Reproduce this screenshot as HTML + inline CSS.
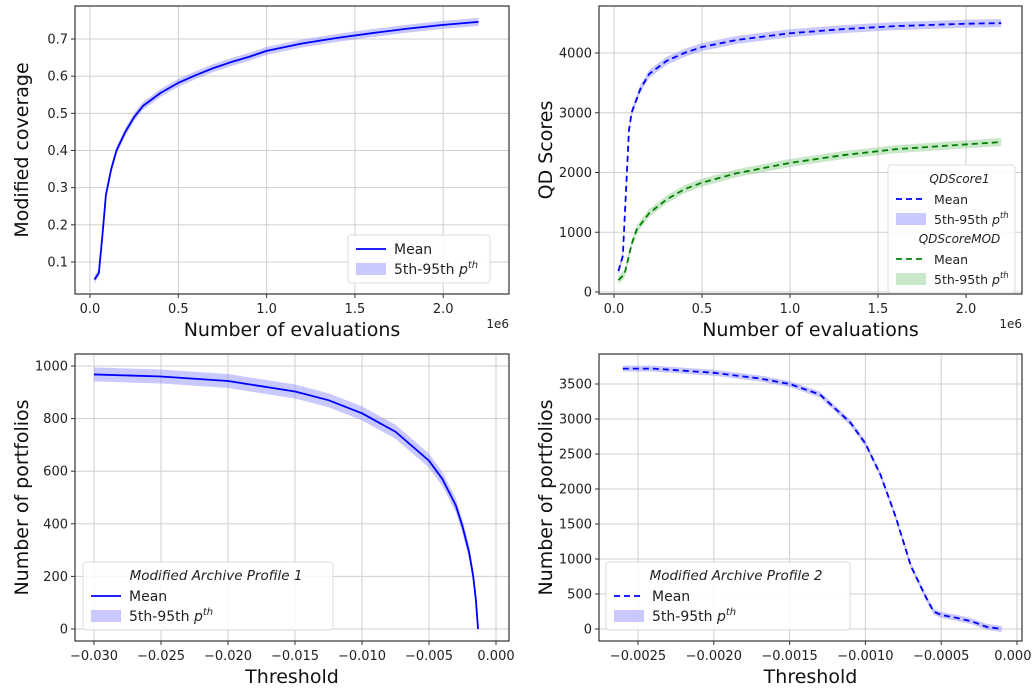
<!DOCTYPE html>
<html><head><meta charset="utf-8">
<style>
body{margin:0;background:#fff;}
svg{display:block;font-family:"DejaVu Sans","Liberation Sans",sans-serif;}
</style></head>
<body>
<svg id="fig" width="1032" height="690" viewBox="0 0 1032 690" xmlns="http://www.w3.org/2000/svg"></svg>
<script>
// ---- data ----
const covX = [0.025,0.05,0.07,0.09,0.12,0.15,0.2,0.25,0.3,0.4,0.5,0.6,0.7,0.8,0.9,1.0,1.2,1.4,1.6,1.8,2.0,2.2];
const covY = [0.053,0.07,0.17,0.28,0.35,0.40,0.45,0.49,0.52,0.555,0.582,0.603,0.622,0.638,0.652,0.668,0.688,0.703,0.716,0.728,0.738,0.746];
const qdX = [0.025,0.05,0.07,0.085,0.1,0.15,0.2,0.3,0.4,0.5,0.7,1.0,1.3,1.6,2.0,2.2];
const qd1Y = [350,600,1800,2700,3000,3400,3650,3870,4000,4100,4220,4330,4400,4450,4490,4500];
const qdModX = [0.025,0.06,0.1,0.13,0.2,0.3,0.4,0.5,0.7,1.0,1.3,1.6,2.0,2.2];
const qdModY = [200,300,800,1050,1320,1550,1720,1830,1990,2160,2290,2390,2470,2510];
const p1X = [-0.030,-0.025,-0.020,-0.015,-0.0125,-0.010,-0.0075,-0.005,-0.004,-0.003,-0.0025,-0.002,-0.0017,-0.0015,-0.00134];
const p1Y = [968,960,943,903,870,820,750,640,570,470,390,290,200,110,0];
const p2X = [-0.0026,-0.0024,-0.0020,-0.0017,-0.0015,-0.0013,-0.0011,-0.0010,-0.0009,-0.0008,-0.0007,-0.0006,-0.00055,-0.0005,-0.0004,-0.0003,-0.0002,-0.0001];
const p2Y = [3720,3720,3660,3580,3500,3350,2950,2650,2200,1600,900,450,250,200,160,110,30,0];
const covXTicks = [0,0.5,1.0,1.5,2.0];
const covYTicks = [0.1,0.2,0.3,0.4,0.5,0.6,0.7];
const qdYTicks = [0,1000,2000,3000,4000];
const p1XTicks = [-0.030,-0.025,-0.020,-0.015,-0.010,-0.005,0.000];
const p1YTicks = [0,200,400,600,800,1000];
const p2XTicks = [-0.0025,-0.0020,-0.0015,-0.0010,-0.0005,0.0000];
const p2YTicks = [0,500,1000,1500,2000,2500,3000,3500];

const NS="http://www.w3.org/2000/svg";
const svg=document.getElementById('fig');
function el(tag,attrs,parent,text){const e=document.createElementNS(NS,tag);for(const k in attrs)e.setAttribute(k,attrs[k]);if(text!==undefined)e.textContent=text;(parent||svg).appendChild(e);return e;}
function lin(d0,d1,r0,r1){return v=>r0+(v-d0)*(r1-r0)/(d1-d0);}

function panel(name,box,sx,sy,xt,yt,xfmt,yfmt,xlabel,ylabel,sci){
  const g=el('g',{});
  
  
  for(const t of xt){const x=sx(t);const l=el('line',{x1:x,x2:x,y1:box.t,y2:box.b,stroke:'#cfcfcf','stroke-width':1},g);
    el('line',{x1:x,x2:x,y1:box.b,y2:box.b+4,stroke:'#333'},g);
    const tx=el('text',{x:x,y:box.b+19,'font-size':13,'text-anchor':'middle',fill:'#222'},g,xfmt(t));}
  for(const t of yt){const y=sy(t);const l=el('line',{x1:box.l,x2:box.r,y1:y,y2:y,stroke:'#cfcfcf','stroke-width':1},g);
    el('line',{x1:box.l-4,x2:box.l,y1:y,y2:y,stroke:'#333'},g);
    const tx=el('text',{x:box.l-7,y:y+4.5,'font-size':13,'text-anchor':'end',fill:'#222'},g,yfmt(t));}
  const xl=el('text',{x:(box.l+box.r)/2,y:box.b+42,'font-size':19,'text-anchor':'middle',fill:'#111'},g,xlabel);
  
  const yl=el('text',{x:0,y:0,'font-size':19,'text-anchor':'middle',fill:'#111',transform:`translate(${box.l-47},${(box.t+box.b)/2}) rotate(-90)`},g,ylabel);
  
  if(sci){const s=el('text',{x:box.r,y:box.b+34,'font-size':12,'text-anchor':'end',fill:'#222'},g,'1e6');}
  return g;
}
function frame(g,box){const r=el('rect',{x:box.l,y:box.t,width:box.r-box.l,height:box.b-box.t,fill:'none',stroke:'#333','stroke-width':1.2},g);}
function series(g,xs,ys,sx,sy,color,band,bandColor,dash,name){
  const up=xs.map((x,i)=>`${sx(x)},${sy(ys[i])-band}`);
  const dn=xs.map((x,i)=>`${sx(x)},${sy(ys[i])+band}`).reverse();
  const p=el('polygon',{points:up.concat(dn).join(' '),fill:bandColor,'fill-opacity':0.45,stroke:'none'},g);
  
  const l=el('polyline',{points:xs.map((x,i)=>`${sx(x)},${sy(ys[i])}`).join(' '),fill:'none',stroke:color,'stroke-width':1.8,'stroke-dasharray':dash||'none','stroke-linejoin':'round'},g);
  
}
function legend(g,x,y,w,rows,name,fs){
  fs=fs||14;
  const h=rows.length*20+8;
  const r=el('rect',{x:x,y:y,width:w,height:h,rx:3,fill:'#fff','fill-opacity':0.85,stroke:'#ddd'},g);
  
  rows.forEach((rw,i)=>{const cy=y+14+i*20;
    if(rw.type==='title'){const t=el('text',{x:x+w/2+8,y:cy+4,'font-size':fs-0.5,'font-style':'italic','text-anchor':'middle',fill:'#222'},g,rw.text);return;}
    if(rw.type==='line')el('line',{x1:x+8,x2:x+38,y1:cy,y2:cy,stroke:rw.color,'stroke-width':1.8,'stroke-dasharray':rw.dash||'none'},g);
    else el('rect',{x:x+8,y:cy-6,width:30,height:12,fill:rw.color,'fill-opacity':0.45},g);
    const t=el('text',{x:x+46,y:cy+5,'font-size':fs,fill:'#222'},g);
    
    if(rw.type==='band'){t.appendChild(document.createTextNode('5th-95th '));const p=el('tspan',{'font-style':'italic'},t,'p');el('tspan',{'font-size':fs-4,dy:-6,'font-style':'italic'},t,'th');}
    else t.textContent=rw.text;
  });
}
const f1=v=>v.toFixed(1), f0=v=>String(v);
const minus=s=>s.replace('-','\u2212');

// Panel 1
{const box={l:75,r:509,t:6,b:294};const sx=lin(0,1,90,266.6),sy=lin(0.1,0.7,262,39);
 const g=panel('coverage-panel',box,sx,sy,covXTicks,covYTicks,f1,f1,'Number of evaluations','Modified coverage',true);
 series(g,covX,covY,sx,sy,'#0000ff',4,'#8888ff',null,'coverage');frame(g,box);
 legend(g,348,235,142,[{type:'line',color:'#0000ff',text:'Mean'},{type:'band',color:'#8888ff'}],'coverage-legend');}
// Panel 2
{const box={l:599,r:1022,t:6,b:294};const sx=lin(0,1,614,790),sy=lin(0,4000,292,53);
 const g=panel('qd-score-panel',box,sx,sy,covXTicks,qdYTicks,f1,f0,'Number of evaluations','QD Scores',true);
 series(g,qdX,qd1Y,sx,sy,'#0000ff',4,'#8888ff','6,4','qdscore1');
 series(g,qdModX,qdModY,sx,sy,'#008000',4,'#88cc88','6,4','qdscoremod');frame(g,box);
 legend(g,888,165,127,[{type:'title',text:'QDScore1'},{type:'line',color:'#0000ff',dash:'6,4',text:'Mean'},{type:'band',color:'#8888ff'},{type:'title',text:'QDScoreMOD'},{type:'line',color:'#008000',dash:'6,4',text:'Mean'},{type:'band',color:'#88cc88'}],'qd-legend',12.5);}
// Panel 3
{const box={l:75,r:509,t:354,b:641};const sx=lin(-0.03,0,94,496),sy=lin(0,1000,629,366);
 const g=panel('archive-profile-1-panel',box,sx,sy,p1XTicks,p1YTicks,v=>minus(v.toFixed(3)),f0,'Threshold','Number of portfolios',false);
 series(g,p1X,p1Y,sx,sy,'#0000ff',7,'#8888ff',null,'profile1');frame(g,box);
 legend(g,83,562,250,[{type:'title',text:'Modified Archive Profile 1'},{type:'line',color:'#0000ff',text:'Mean'},{type:'band',color:'#8888ff'}],'profile1-legend');}
// Panel 4
{const box={l:599,r:1022,t:354,b:641};const sx=lin(-0.0025,0,638,1017),sy=lin(0,3500,629,384);
 const g=panel('archive-profile-2-panel',box,sx,sy,p2XTicks,p2YTicks,v=>minus(v.toFixed(4)),f0,'Threshold','Number of portfolios',false);
 series(g,p2X,p2Y,sx,sy,'#0000ff',3,'#8888ff','6,4','profile2');frame(g,box);
 legend(g,606,562,244,[{type:'title',text:'Modified Archive Profile 2'},{type:'line',color:'#0000ff',dash:'6,4',text:'Mean'},{type:'band',color:'#8888ff'}],'profile2-legend');}
</script>
</body></html>
